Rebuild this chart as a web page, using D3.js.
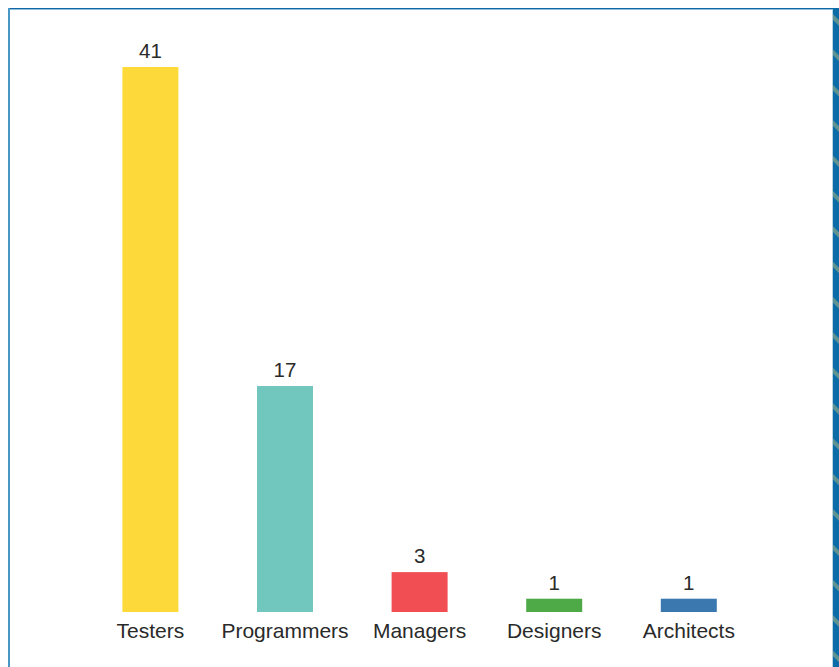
<!DOCTYPE html>
<html>
<head>
<meta charset="utf-8">
<script src="https://cdn.jsdelivr.net/npm/d3@7"></script>
<style>
  html, body { margin: 0; padding: 0; background: #fff; }
  svg { display: block; }
  text { font-family: "Liberation Sans", Arial, Helvetica, sans-serif; fill: #2a2a2a; }
</style>
</head>
<body>
<svg id="chart" width="839" height="667"></svg>
<script>
// Team composition: head count per role
const roles = ["Testers", "Programmers", "Managers", "Designers", "Architects"];
const counts = [41, 17, 3, 1, 1];
const barColors = ["#FDDA3A", "#71C6BE", "#F04E53", "#4EAA46", "#3C78B0"];

const W = 839, H = 667;
const svg = d3.select("#chart");

// Panel frame
const defs = svg.append("defs");
const stripes = defs.append("pattern")
  .attr("id", "edgeStripes")
  .attr("patternUnits", "userSpaceOnUse")
  .attr("width", 25).attr("height", 25)
  .attr("patternTransform", "rotate(-45)");
stripes.append("rect").attr("width", 25).attr("height", 25).attr("fill", "#0B6CA8");
stripes.append("rect").attr("width", 4).attr("height", 25).attr("fill", "#5E9391");

svg.append("rect")
  .attr("x", 833).attr("y", 8).attr("width", W - 833).attr("height", H - 8)
  .attr("fill", "url(#edgeStripes)");
svg.append("line")
  .attr("x1", 832.5).attr("x2", 832.5).attr("y1", 9).attr("y2", H)
  .attr("stroke", "#B9D3E3").attr("stroke-width", 1);
svg.append("line")
  .attr("x1", 8).attr("x2", 833).attr("y1", 8.5).attr("y2", 8.5)
  .attr("stroke", "#1467A5").attr("stroke-width", 1);
svg.append("line")
  .attr("x1", 9).attr("x2", 833).attr("y1", 9.5).attr("y2", 9.5)
  .attr("stroke", "#8DBFDD").attr("stroke-width", 1);
svg.append("line")
  .attr("x1", 9).attr("x2", 9).attr("y1", 8).attr("y2", H)
  .attr("stroke", "#4A96C4").attr("stroke-width", 2);

// Scales
const x = d3.scaleBand()
  .domain(roles)
  .range([122.4, 716.8])
  .paddingInner(0.584)
  .paddingOuter(0);

const y = d3.scaleLinear()
  .domain([0, d3.max(counts)])
  .range([612, 67]);

const data = roles.map((r, i) => ({ role: r, count: counts[i], color: barColors[i] }));

// Bars
svg.append("g").selectAll("rect")
  .data(data)
  .join("rect")
  .attr("x", d => x(d.role))
  .attr("y", d => y(d.count))
  .attr("width", x.bandwidth())
  .attr("height", d => y(0) - y(d.count))
  .attr("fill", d => d.color);

// Value labels above bars
svg.append("g").selectAll("text")
  .data(data)
  .join("text")
  .attr("x", d => x(d.role) + x.bandwidth() / 2)
  .attr("y", d => y(d.count) - 9)
  .attr("text-anchor", "middle")
  .attr("font-size", 20.5)
  .text(d => d.count);

// Category axis (labels only)
const axis = svg.append("g")
  .attr("transform", `translate(0,${y(0)})`)
  .call(d3.axisBottom(x).tickSize(0).tickPadding(0));
axis.select(".domain").remove();
axis.selectAll("text")
  .attr("y", 26)
  .attr("dy", 0)
  .attr("font-size", 21)
  .attr("font-family", "'Liberation Sans', Arial, Helvetica, sans-serif")
  .attr("fill", "#2a2a2a");
</script>
</body>
</html>
